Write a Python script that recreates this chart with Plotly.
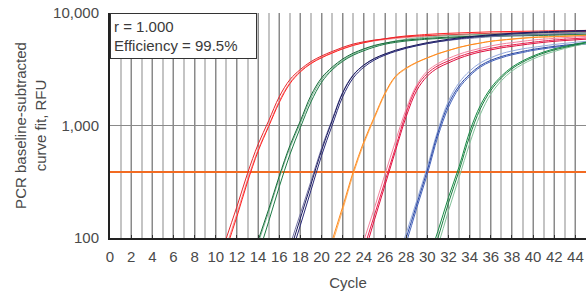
import plotly.graph_objects as go

# ---------------- data ----------------
THRESHOLD = 386
X_TICKS = list(range(0, 45, 2))
Y_TICKS = [100, 1000, 10000]
Y_TICK_TEXT = ["100", "1,000", "10,000"]

RED_CYC = [10, 11, 12, 13, 14, 15, 16, 17, 18, 19, 20, 21, 22, 23, 24, 25, 26, 27, 28, 29, 30, 32, 34, 36, 38, 40, 42, 45]
RED_A = [50, 100, 190, 375, 680, 1100, 1800, 2550, 3150, 3700, 4150, 4550, 4950, 5300, 5550, 5750, 5900, 6050, 6150, 6250, 6300, 6400, 6500, 6600, 6650, 6700, 6750, 6850]
RED_B = [43, 85, 165, 330, 610, 1000, 1650, 2400, 3050, 3600, 4050, 4450, 4850, 5200, 5450, 5650, 5800, 5950, 6050, 6150, 6200, 6300, 6400, 6500, 6550, 6600, 6650, 6750]
RED_C = [40, 80, 155, 315, 590, 980, 1600, 2350, 3000, 3550, 4000, 4400, 4800, 5150, 5450, 5700, 5900, 6100, 6250, 6350, 6450, 6600, 6700, 6800, 6850, 6900, 6950, 7000]

GREEN1_CYC = [13, 14, 15, 16, 17, 18, 19, 20, 21, 22, 23, 24, 25, 26, 27, 28, 29, 30, 32, 34, 36, 38, 40, 42, 45]
GREEN1_A = [48, 95, 180, 355, 660, 1100, 1850, 2650, 3300, 3900, 4400, 4800, 5150, 5400, 5600, 5750, 5850, 5950, 6100, 6200, 6300, 6350, 6400, 6450, 6500]
GREEN1_B = [35, 70, 140, 285, 550, 960, 1620, 2420, 3120, 3720, 4220, 4620, 4980, 5280, 5480, 5640, 5750, 5850, 6000, 6100, 6200, 6250, 6300, 6350, 6400]
GREEN1_C = [45, 90, 170, 340, 630, 1050, 1750, 2550, 3200, 3800, 4300, 4750, 5100, 5400, 5650, 5850, 6000, 6100, 6300, 6400, 6500, 6550, 6600, 6650, 6700]

NAVY_CYC = [16, 17, 18, 19, 20, 21, 22, 23, 24, 25, 26, 27, 28, 29, 30, 31, 32, 33, 34, 36, 38, 40, 42, 45]
NAVY_A = [38, 75, 150, 300, 600, 1100, 1950, 2800, 3450, 3950, 4330, 4670, 4960, 5210, 5450, 5650, 5850, 6000, 6150, 6400, 6600, 6750, 6850, 7000]
NAVY_B = [32, 65, 130, 265, 540, 1000, 1800, 2650, 3300, 3820, 4220, 4560, 4860, 5110, 5350, 5550, 5750, 5900, 6050, 6300, 6500, 6650, 6750, 6900]
NAVY_C = [42, 85, 165, 320, 630, 1130, 1980, 2830, 3440, 3920, 4280, 4610, 4900, 5150, 5350, 5550, 5700, 5850, 5950, 6150, 6300, 6400, 6500, 6650]

ORANGE_CYC = [20, 21, 22, 23, 24, 25, 26, 27, 28, 29, 30, 31, 32, 33, 34, 35, 36, 38, 40, 42, 45]
ORANGE_A = [48, 95, 190, 390, 720, 1200, 1950, 2750, 3250, 3650, 4000, 4350, 4650, 4950, 5200, 5400, 5600, 5850, 6050, 6150, 6300]
ORANGE_B = [44, 88, 178, 370, 690, 1160, 1900, 2700, 3200, 3620, 3980, 4330, 4640, 4940, 5200, 5420, 5620, 5880, 6100, 6200, 6350]

CRIMSON_CYC = [23, 24, 25, 26, 27, 28, 29, 30, 31, 32, 33, 34, 35, 36, 37, 38, 40, 42, 45]
CRIMSON_A = [40, 80, 160, 320, 640, 1300, 2200, 2900, 3400, 3750, 4100, 4400, 4650, 4850, 5050, 5200, 5500, 5750, 6000]
CRIMSON_B = [48, 95, 185, 370, 730, 1400, 2300, 3050, 3550, 3950, 4300, 4600, 4850, 5100, 5300, 5450, 5750, 5950, 6200]
CRIMSON_C = [35, 70, 145, 295, 600, 1200, 2050, 2750, 3250, 3600, 3950, 4250, 4500, 4700, 4900, 5050, 5350, 5600, 5850]

BLUE_CYC = [27, 28, 29, 30, 31, 32, 33, 34, 35, 36, 37, 38, 39, 40, 42, 45]
BLUE_A = [55, 100, 200, 400, 860, 1550, 2250, 2850, 3400, 3800, 4100, 4350, 4550, 4750, 5050, 5400]
BLUE_B = [48, 90, 185, 370, 800, 1450, 2150, 2750, 3300, 3700, 4000, 4250, 4450, 4650, 4950, 5300]
BLUE_C = [60, 110, 215, 430, 910, 1650, 2400, 3050, 3600, 4000, 4350, 4600, 4800, 4950, 5250, 5600]

GREEN2_CYC = [29, 30, 31, 32, 33, 34, 35, 36, 37, 38, 39, 40, 41, 42, 43, 44, 45]
GREEN2_A = [30, 60, 115, 230, 430, 880, 1500, 2150, 2750, 3300, 3750, 4150, 4500, 4800, 5050, 5300, 5500]
GREEN2_B = [22, 45, 85, 175, 345, 690, 1250, 1900, 2500, 3050, 3500, 3900, 4250, 4550, 4850, 5100, 5350]
GREEN2_C = [26, 52, 100, 205, 395, 800, 1400, 2050, 2650, 3200, 3650, 4050, 4400, 4700, 4950, 5200, 5450]

# ---------------- styling ----------------
GROUPS = [
    (RED_CYC, [RED_B, RED_C, RED_A], ["#f59090", "#ff2020", "#e8262c"]),
    (GREEN1_CYC, [GREEN1_C, GREEN1_B, GREEN1_A], ["#7fb896", "#1d7a45", "#156b38"]),
    (NAVY_CYC, [NAVY_C, NAVY_B, NAVY_A], ["#7676a6", "#2a2a78", "#1a1a5e"]),
    (ORANGE_CYC, [ORANGE_B, ORANGE_A], ["#ffae5c", "#ff8a1c"]),
    (CRIMSON_CYC, [CRIMSON_B, CRIMSON_C, CRIMSON_A], ["#f4849f", "#e0103f", "#ea1f4e"]),
    (BLUE_CYC, [BLUE_C, BLUE_B, BLUE_A], ["#93a8dc", "#4664bc", "#2a47a4"]),
    (GREEN2_CYC, [GREEN2_B, GREEN2_C, GREEN2_A], ["#84c29a", "#1a8040", "#178a45"]),
]

TEXT = "#4a4a4a"
FONT = "Liberation Sans, Arial, sans-serif"

fig = go.Figure()

fig.add_trace(go.Scatter(
    x=[0, 45], y=[THRESHOLD, THRESHOLD], mode="lines",
    line=dict(color="#f26b22", width=2), hoverinfo="skip", showlegend=False))

for cyc, reps, colors in GROUPS:
    for vals, col in zip(reps, colors):
        fig.add_trace(go.Scatter(
            x=cyc, y=vals, mode="lines",
            line=dict(color=col, width=1, shape="spline", smoothing=1.0),
            showlegend=False, hoverinfo="skip"))

fig.update_layout(
    width=587, height=295,
    margin=dict(l=110, r=1, t=13, b=57, autoexpand=False),
    paper_bgcolor="white", plot_bgcolor="white",
    font=dict(family=FONT, size=15, color=TEXT),
    showlegend=False,
)

fig.update_xaxes(
    range=[0, 45], tickmode="array", tickvals=X_TICKS,
    showgrid=True, gridcolor="#8a8a8a", gridwidth=1,
    minor=dict(dtick=1, tick0=0, showgrid=True, gridcolor="#c4c4c4", gridwidth=2),
    showline=True, linecolor="#222222", linewidth=1.5,
    ticks="inside", ticklen=3, tickcolor="#333333",
    tickfont=dict(size=15, color=TEXT), ticklabelstandoff=4,
    ticklabeloverflow="allow",
    title=dict(text="Cycle", font=dict(size=15, color=TEXT), standoff=14),
    zeroline=False, automargin=False,
)

fig.update_yaxes(
    type="log", range=[2, 4],
    tickmode="array", tickvals=Y_TICKS, ticktext=Y_TICK_TEXT,
    showgrid=True, gridcolor="#8a8a8a", gridwidth=1,
    showline=True, linecolor="#222222", linewidth=2,
    ticks="", ticklabelstandoff=6, ticklabeloverflow="allow",
    tickfont=dict(size=15, color=TEXT),
    title=dict(text="PCR baseline-subtracted<br>curve fit, RFU",
               font=dict(size=15, color=TEXT), standoff=3),
    zeroline=False, automargin=False,
)

fig.add_annotation(
    xref="paper", yref="paper", x=0, y=1, xanchor="left", yanchor="top",
    text="r = 1.000<br>Efficiency = 99.5%", align="left", showarrow=False,
    font=dict(size=15, color="#3a3a3a", family=FONT),
    bgcolor="white", bordercolor="#333333", borderwidth=1, borderpad=3,
    width=139, height=38, valign="middle",
)

# remove the page's default 8px body margin so the figure sits at the window origin
fig.write_html("out.html", config={"displayModeBar": False},
               post_script="document.body.style.margin='0px';")
